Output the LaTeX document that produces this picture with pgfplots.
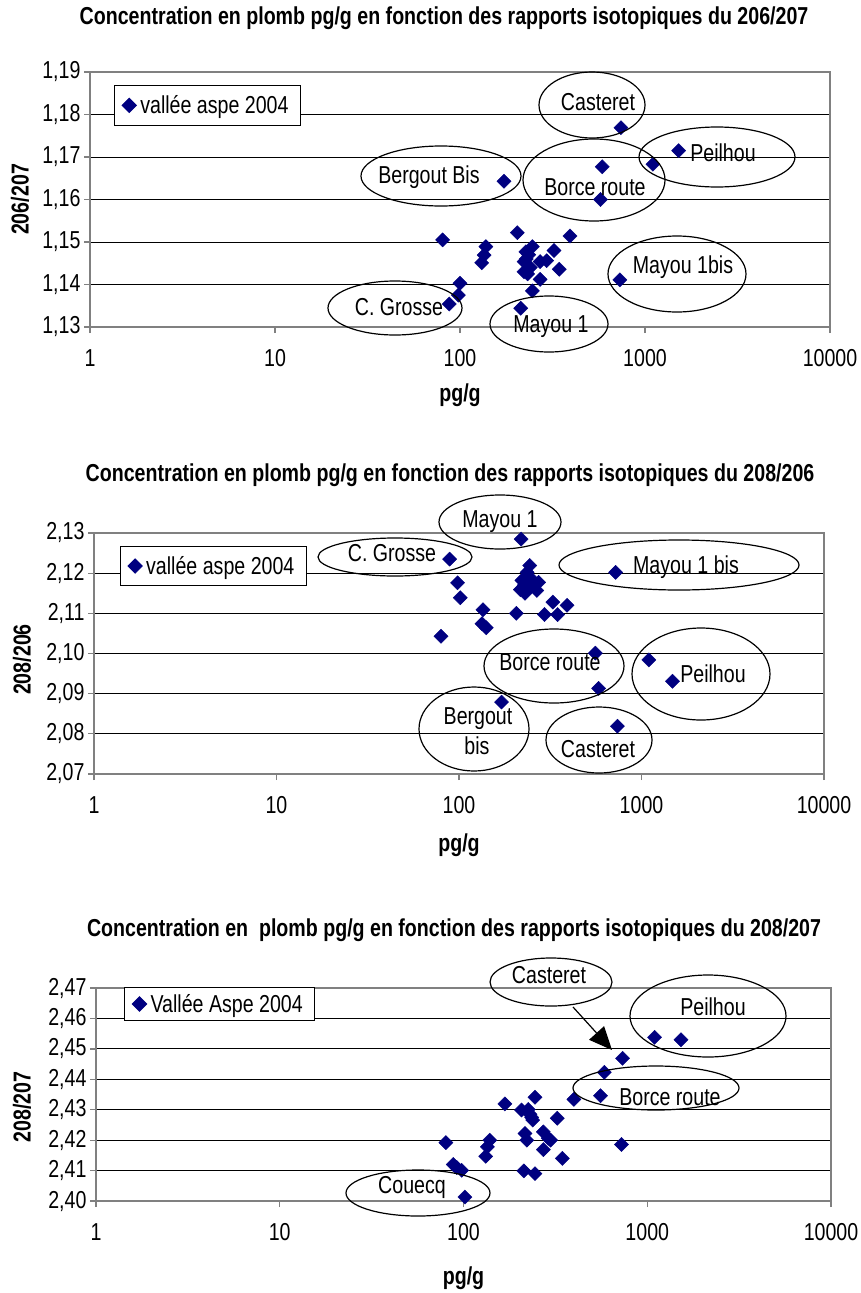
\documentclass[border=0pt]{standalone}
\usepackage{fontspec}
\setmainfont{Liberation Sans}[FakeStretch=0.8]
\usepackage{pgfplots}
\pgfplotsset{compat=1.18}
\usetikzlibrary{arrows.meta}
\definecolor{navy}{RGB}{0,0,128}
\definecolor{frame}{RGB}{128,128,128}
\newcommand\fs{\fontsize{24.5}{29}\selectfont}

\pgfplotsset{
  scale only axis,
  axis line style={frame, line width=1.3pt},
  ymajorgrids, grid style={black, line width=1pt},
  tick style={frame, line width=1.3pt},
  tick align=outside, major tick length=6pt,
  xtick pos=bottom, ytick pos=left,
  ticklabel style={font=\fs},
  yticklabel style={/pgf/number format/.cd, fixed, fixed zerofill, precision=2, use comma, assume math mode=true},
  xticklabel style={yshift=-13pt},
  label style={font=\fs\bfseries},
  legend style={font=\fs, draw=black, line width=1pt, fill=white, inner xsep=8pt, inner ysep=8pt, anchor=north west,
    nodes={inner xsep=4pt}},
  legend cell align=left,
  clip=false,
}

\begin{document}
\begin{tikzpicture}
\path[use as bounding box] (0pt,0pt) rectangle (861pt,-1293pt);

% ---------------- Plot 1 ----------------
\begin{axis}[xmode=log, xmin=1, xmax=10000,
  xtick={1,10,100,1000,10000}, xticklabels={1,10,100,1000,10000}, xminorticks=false,
  at={(90pt,-327pt)}, anchor=south west,
  width=740pt, height=255pt,
  ymin=1.13, ymax=1.19, ytick={1.13,1.14,1.15,1.16,1.17,1.18,1.19},
  xlabel={pg/g}, ylabel={206/207},
  xlabel style={at={(axis description cs:0.5,0)}, anchor=center, yshift=-68pt},
  ylabel style={at={(axis description cs:-0.0946,0.5)}, anchor=center},
  legend style={at={(0.032,0.949)}}]
\addplot[only marks, mark=square*, mark size=5pt, mark options={rotate=45, fill=navy, draw=navy}, color=navy] coordinates {
(741,1.1769) (1521,1.1715) (1103,1.1683) (587,1.1677) (173,1.1643) (575,1.1600) (731,1.1411)
(80.6,1.1505) (138,1.1489) (135,1.1469) (131,1.1451) (204,1.1522) (393,1.1514) (246,1.1489)
(227,1.1477) (322,1.1480) (222,1.1454) (271,1.1454) (294,1.1456) (344,1.1436) (222,1.1430)
(271,1.1412) (246,1.1385) (100,1.1403) (98,1.1375) (87.5,1.1354) (213,1.1344)
(235,1.1470) (228,1.1460) (240,1.1440) (232,1.1425)
};
\addlegendentry{vallée aspe 2004}
\end{axis}

% ---------------- Plot 2 ----------------
\begin{axis}[xmode=log, xmin=1, xmax=10000,
  xtick={1,10,100,1000,10000}, xticklabels={1,10,100,1000,10000}, xminorticks=false,
  at={(94pt,-774pt)}, anchor=south west,
  width=730pt, height=241pt,
  ymin=2.07, ymax=2.13, ytick={2.07,2.08,2.09,2.10,2.11,2.12,2.13},
  xlabel={pg/g}, ylabel={208/206},
  xlabel style={at={(axis description cs:0.5,0)}, anchor=center, yshift=-71pt},
  ylabel style={at={(axis description cs:-0.0986,0.475)}, anchor=center},
  legend style={at={(0.035,0.947)}}]
\addplot[only marks, mark=square*, mark size=5pt, mark options={rotate=45, fill=navy, draw=navy}, color=navy] coordinates {
(219,2.1285) (88.8,2.1235) (722,2.1202) (98.2,2.1176) (101.6,2.1139) (79.7,2.1043)
(135.4,2.1109) (133.7,2.1074) (141,2.1064) (206,2.1100) (244,2.1219) (236,2.1202)
(221,2.1182) (217,2.1159) (236,2.1159) (273,2.1177) (267,2.1157) (327,2.1128)
(391,2.1120) (294,2.1097) (347,2.1097) (559,2.1001) (582,2.0913) (1097,2.0984)
(1479,2.0931) (171,2.0879) (738,2.0819)
(228,2.1170) (245,2.1165) (230,2.1150) (250,2.1185)
};
\addlegendentry{vallée aspe 2004}
\end{axis}

% ---------------- Plot 3 ----------------
\begin{axis}[xmode=log, xmin=1, xmax=10000,
  xtick={1,10,100,1000,10000}, xticklabels={1,10,100,1000,10000}, xminorticks=false,
  at={(96pt,-1201pt)}, anchor=south west,
  width=735pt, height=213pt,
  ymin=2.40, ymax=2.47, ytick={2.40,2.41,2.42,2.43,2.44,2.45,2.46,2.47},
  xlabel={pg/g}, ylabel={208/207},
  xlabel style={at={(axis description cs:0.5,0)}, anchor=center, yshift=-77pt},
  ylabel style={at={(axis description cs:-0.1007,0.441)}, anchor=center},
  legend style={at={(0.038,1.006)}, inner ysep=5pt}]
\addplot[only marks, mark=square*, mark size=5pt, mark options={rotate=45, fill=navy, draw=navy}, color=navy] coordinates {
(734,2.4469) (1096,2.4538) (1527,2.4530) (584,2.4423) (557,2.4346) (399,2.4334) (724,2.4186)
(80.2,2.4192) (87.9,2.4120) (97.7,2.4101) (101.8,2.4013) (139,2.4200) (135,2.4178) (132,2.4147)
(168,2.4319) (245,2.4341) (207,2.4299) (225,2.4301) (238,2.4266) (324,2.4272) (216,2.4222)
(221,2.4200) (272,2.4227) (289,2.4206) (298,2.4200) (272,2.4169) (345,2.4140) (213,2.4099)
(245,2.4090) (230,2.4285) (235,2.4275) (92,2.4110)
};
\addlegendentry{Vallée Aspe 2004}
\end{axis}

% ---------------- Annotations ----------------
\begin{scope}[x=1pt,y=-1pt, line width=1.2pt]
\node[font=\fs\bfseries] at (444,18) {Concentration en plomb pg/g en fonction des rapports isotopiques du 206/207};
\node[font=\fs\bfseries] at (450,475) {Concentration en plomb pg/g en fonction des rapports isotopiques du 208/206};
\node[font=\fs\bfseries] at (454,930) {Concentration en\ \ plomb pg/g en fonction des rapports isotopiques du 208/207};

% plot 1
\draw (592,105) ellipse [x radius=53pt, y radius=33pt]; \node[font=\fs] at (598,102) {Casteret};
\draw (717,157) ellipse [x radius=78pt, y radius=30pt]; \node[font=\fs] at (723,153) {Peilhou};
\draw (594,180) ellipse [x radius=71pt, y radius=41pt]; \node[font=\fs] at (595,187) {Borce route};
\draw (441,176) ellipse [x radius=80pt, y radius=30pt]; \node[font=\fs] at (429,177) {Bergout Bis};
\draw (677,274) ellipse [x radius=69pt, y radius=38pt]; \node[font=\fs] at (683,267) {Mayou 1bis};
\draw (395,308) ellipse [x radius=67pt, y radius=27pt]; \node[font=\fs] at (399,307) {C. Grosse};
\draw (549,324) ellipse [x radius=59pt, y radius=28pt]; \node[font=\fs] at (551,327) {Mayou 1};

% plot 2
\draw (500,522) ellipse [x radius=61pt, y radius=27pt]; \node[font=\fs] at (500,522) {Mayou 1};
\draw (395,557) ellipse [x radius=77pt, y radius=19pt]; \node[font=\fs] at (392,553) {C. Grosse};
\draw (679,565) ellipse [x radius=120pt, y radius=25pt]; \node[font=\fs] at (686,567) {Mayou 1 bis};
\draw (554,666) ellipse [x radius=70pt, y radius=37pt]; \node[font=\fs] at (550,662) {Borce route};
\draw (701,674) ellipse [x radius=69pt, y radius=46pt]; \node[font=\fs] at (713,674) {Peilhou};
\draw (474,729) ellipse [x radius=55pt, y radius=42pt]; \node[font=\fs] at (478,719) {Bergout}; \node[font=\fs] at (477,746) {bis};
\draw (599,740) ellipse [x radius=53pt, y radius=33pt]; \node[font=\fs] at (598,749) {Casteret};

% plot 3
\draw (551,982) ellipse [x radius=61pt, y radius=24pt]; \node[font=\fs] at (549,975) {Casteret};
\draw (708,1016) ellipse [x radius=78pt, y radius=41pt]; \node[font=\fs] at (713,1007) {Peilhou};
\draw (656,1088) ellipse [x radius=83pt, y radius=22pt]; \node[font=\fs] at (670,1097) {Borce route};
\draw (418,1193) ellipse [x radius=72pt, y radius=23pt]; \node[font=\fs] at (412,1187) {Couecq};
\draw[-{Triangle[length=23pt,width=20pt]}] (573,1007) -- (612,1050);
\end{scope}
\end{tikzpicture}
\end{document}
